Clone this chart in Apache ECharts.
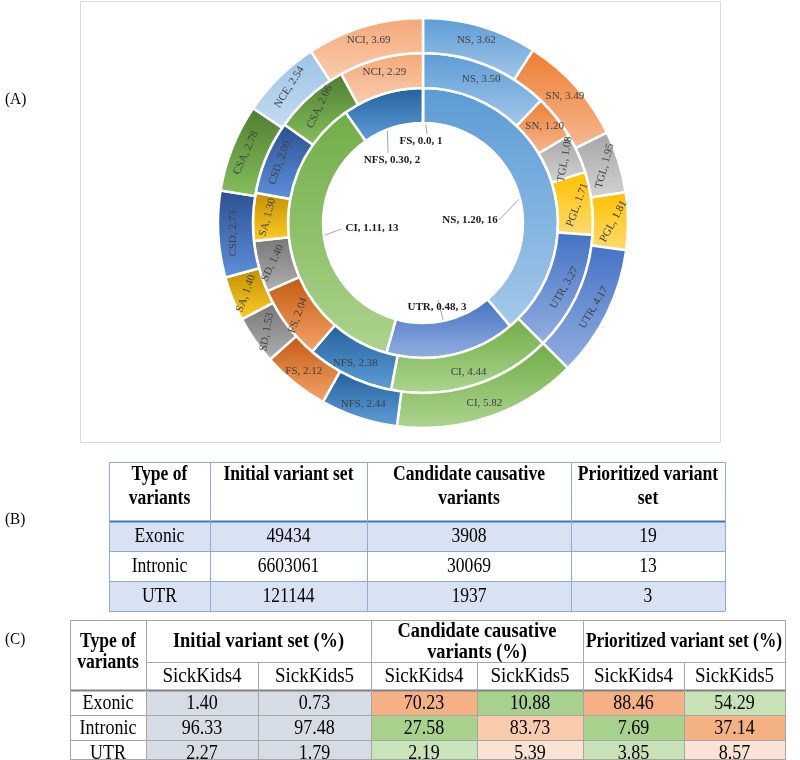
<!DOCTYPE html>
<html><head><meta charset="utf-8">
<script src="https://cdn.jsdelivr.net/npm/echarts@6/dist/echarts.min.js"></script>
<style>html,body{margin:0;padding:0;background:#fff}#c{width:800px;height:760px}</style>
</head><body><div id="c"></div>
<script>
// ---------------- data ----------------
const innerNames  = ['NS', 'UTR', 'CI', 'NFS', 'FS'];
const innerValues = [1.20, 0.48, 1.11, 0.30, 0.0];
const innerCounts = [16, 3, 13, 2, 1];

const middleNames  = ['NS','SN','TGL','PGL','UTR','CI','NFS','FS','SD','SA','CSD','CSA','NCI'];
const middleValues = [3.50, 1.20, 1.08, 1.71, 3.27, 4.44, 2.38, 2.04, 1.40, 1.30, 2.00, 2.06, 2.29];

const outerNames  = ['NS','SN','TGL','PGL','UTR','CI','NFS','FS','SD','SA','CSD','CSA','NCE','NCI'];
const outerValues = [3.62, 3.49, 1.95, 1.81, 4.17, 5.82, 2.44, 2.12, 1.53, 1.40, 2.73, 2.78, 2.54, 3.69];

const tableBHeader = ['Type of\nvariants', 'Initial variant set', 'Candidate causative\nvariants', 'Prioritized variant\nset'];
const variantTypes = ['Exonic', 'Intronic', 'UTR'];
const initialCounts     = [49434, 6603061, 121144];
const candidateCounts   = [3908, 30069, 1937];
const prioritizedCounts = [19, 13, 3];

const tableCGroups = ['Initial variant set (%)', 'Candidate causative\nvariants (%)', 'Prioritized variant set (%)'];
const sampleNames = ['SickKids4', 'SickKids5'];
const initialPctSK4     = [1.40, 96.33, 2.27];
const initialPctSK5     = [0.73, 97.48, 1.79];
const candidatePctSK4   = [70.23, 27.58, 2.19];
const candidatePctSK5   = [10.88, 83.73, 5.39];
const prioritizedPctSK4 = [88.46, 7.69, 3.85];
const prioritizedPctSK5 = [54.29, 37.14, 8.57];

// ---------------- styles / layout ----------------
const SERIF = '"Liberation Serif","Times New Roman",Times,serif';
const CX = 423, CY = 223;
const catColors = {
  NS:  ['#5b9bd5', '#a4c8ea'],
  SN:  ['#ed7d31', '#f6b992'],
  TGL: ['#a5a5a5', '#d3d3d3'],
  PGL: ['#ffc000', '#ffdb6e'],
  UTR: ['#4472c4', '#93afe0'],
  CI:  ['#70ad47', '#add48f'],
  NFS: ['#24609c', '#5f9fd8'],
  FS:  ['#c55a11', '#f4a46c'],
  SD:  ['#767676', '#b0b0b0'],
  SA:  ['#c09000', '#ffcc26'],
  CSD: ['#2b4f91', '#5f91dc'],
  CSA: ['#4f7c30', '#86c05e'],
  NCE: ['#9dc3e6', '#c3dbf0'],
  NCI: ['#f4a878', '#f9cdb0']
};
function grad(name) {
  const c = catColors[name];
  return { type: 'linear', x: 0, y: 0, x2: 0, y2: 1,
    colorStops: [{ offset: 0, color: c[0] }, { offset: 1, color: c[1] }] };
}
// label rotation (degrees, counter-clockwise) for ring labels
const middleRot = [0, 0, 80, 70, 60, 0, 0, 70, 65, 75, 70, 65, 0];
const outerRot  = [0, 0, 75, 62, 60, 0, 0, 0, 80, 70, 90, 66, 58, 0];
// inner label placement: label centre offset and leader-line end offset (from centre)
const innerLabelPos = [
  { dx: 47, dy: -3, lx: 76, ly: -3 },
  { dx: 14, dy: 84, lx: 15, ly: 77 },
  { dx: -51, dy: 5, lx: -82, ly: 6 },
  { dx: -31, dy: -63, lx: -35, ly: -70 },
  { dx: -2, dy: -82, lx: 4, ly: -89 }
];

function midAngle(values, i) {
  let sum = 0, before = 0;
  values.forEach((v, k) => { sum += v; if (k < i) before += v; });
  return (before + values[i] / 2) / sum * Math.PI * 2;
}
function ringData(names, values, rot) {
  return names.map((n, i) => ({
    name: n, value: values[i],
    itemStyle: { color: grad(n) },
    label: { rotate: rot[i] }
  }));
}

const ringLabel = {
  show: true, position: 'inside', color: '#404040',
  fontFamily: SERIF, fontSize: 11,
  formatter: p => p.name + ', ' + p.value.toFixed(2)
};
const ringItem = { borderColor: '#ffffff', borderWidth: 2.5 };

const series = [
  {
    type: 'pie', center: [CX, CY], radius: [100, 135], startAngle: 90, clockwise: true,
    avoidLabelOverlap: false, silent: true,
    itemStyle: ringItem,
    data: innerNames.map((n, i) => ({ name: n, value: innerValues[i], itemStyle: { color: grad(n) } })),
    label: {
      show: true, position: 'outside', color: '#1a1a1a', fontFamily: SERIF,
      fontSize: 11, fontWeight: 'bold',
      formatter: p => {
        const i = p.dataIndex;
        const v = innerValues[i] === 0 ? '0.0' : innerValues[i].toFixed(2);
        return innerNames[i] + ', ' + v + ', ' + innerCounts[i];
      }
    },
    labelLine: { show: true, length: 5, length2: 5, lineStyle: { color: '#a6a6a6', width: 1 } },
    labelLayout: function (p) {
      const i = p.dataIndex;
      const s = innerLabelPos[i];
      const a = midAngle(innerValues, i);
      const r = 120;
      const ax = CX + Math.sin(a) * r, ay = CY - Math.cos(a) * r;
      return {
        x: CX + s.dx, y: CY + s.dy, align: 'center', verticalAlign: 'middle',
        labelLinePoints: [[ax, ay], [ax, ay], [CX + s.lx, CY + s.ly]]
      };
    }
  },
  {
    type: 'pie', center: [CX, CY], radius: [135, 170], startAngle: 90, clockwise: true,
    avoidLabelOverlap: false, silent: true, itemStyle: ringItem,
    label: ringLabel, labelLine: { show: false },
    data: ringData(middleNames, middleValues, middleRot)
  },
  {
    type: 'pie', center: [CX, CY], radius: [170, 205], startAngle: 90, clockwise: true,
    avoidLabelOverlap: false, silent: true, itemStyle: ringItem,
    label: ringLabel, labelLine: { show: false },
    data: ringData(outerNames, outerValues, outerRot)
  }
];

// ---------------- tables (graphic) ----------------
const measureCtx = document.createElement('canvas').getContext('2d');
function textWidth(text, size, bold) {
  measureCtx.font = (bold ? 'bold ' : '') + size + 'px ' + SERIF;
  return Math.max.apply(null, String(text).split('\n').map(t => measureCtx.measureText(t).width));
}
const g = [];
// text condensed horizontally (sx) and fitted into a cell width (maxW)
function txt(x, y, text, size, bold, sx, maxW, lh, vAlign) {
  let s = sx;
  const w = textWidth(text, size, bold) * s;
  if (maxW && w > maxW) s = s * maxW / w;
  g.push({
    type: 'text', x: x, y: y, silent: true, scaleX: s, scaleY: 1,
    style: { text: String(text), fill: '#000', fontFamily: SERIF, fontSize: size,
      fontWeight: bold ? 'bold' : 'normal', align: 'center', verticalAlign: vAlign || 'middle',
      lineHeight: lh || size + 4 }
  });
}
function line(x1, y1, x2, y2, color, w) {
  g.push({ type: 'line', silent: true, shape: { x1, y1, x2, y2 }, style: { stroke: color, lineWidth: w } });
}
function rect(x, y, w, h, fill, stroke, lw) {
  g.push({ type: 'rect', silent: true, shape: { x, y, width: w, height: h },
    style: { fill: fill, stroke: stroke || null, lineWidth: lw || 0 } });
}

// chart frame
rect(80.5, 1.5, 640, 441, 'none', '#d9d9d9', 1);
// panel labels
[['(A)', 100], ['(B)', 520], ['(C)', 640]].forEach(p => {
  g.push({ type: 'text', x: 5, y: p[1], silent: true, scaleX: 0.9,
    style: { text: p[0], fontFamily: SERIF, fontSize: 17, fill: '#000', verticalAlign: 'middle' } });
});

// ---- table B ----
const bx = [109, 210, 367, 571, 725];
const by = [462, 521, 551, 581, 611];
const bFill = ['#d9e2f3', '#ffffff', '#d9e2f3'];
for (let r = 0; r < 3; r++) rect(bx[0], by[r + 1], bx[4] - bx[0], by[r + 2] - by[r + 1], bFill[r]);
const bLine = '#8eaadb';
for (let r = 0; r < by.length; r++) line(bx[0], by[r] + 0.5, bx[4], by[r] + 0.5, r === 1 ? '#4472c4' : bLine, r === 1 ? 2 : 1);
for (let c = 0; c < bx.length; c++) line(bx[c] + 0.5, by[0], bx[c] + 0.5, by[4], bLine, 1);
tableBHeader.forEach((h, c) => {
  txt((bx[c] + bx[c + 1]) / 2, by[0] + 1, h, 20, true, 0.88, bx[c + 1] - bx[c] - 4, 24, 'top');
});
const bCols = [variantTypes, initialCounts, candidateCounts, prioritizedCounts];
for (let r = 0; r < 3; r++) {
  bCols.forEach((col, c) => txt((bx[c] + bx[c + 1]) / 2, (by[r + 1] + by[r + 2]) / 2 + 1, col[r], 20, false, 0.88));
}

// ---- table C ----
const cx = [70, 146, 258, 371, 477, 583, 684, 785];
const cy = [620, 662, 690, 715, 740, 765];
const cCols = [initialPctSK4, initialPctSK5, candidatePctSK4, candidatePctSK5, prioritizedPctSK4, prioritizedPctSK5];
const cFill = [
  ['#d6dce5', '#d6dce5', '#f4b183', '#a9d18e', '#f4b183', '#c8e2b7'],
  ['#d6dce5', '#d6dce5', '#a9d18e', '#f8cbad', '#a9d18e', '#f4b183'],
  ['#d6dce5', '#d6dce5', '#cae4ba', '#fbe3d3', '#c8e2b7', '#fbe3d3']
];
for (let r = 0; r < 3; r++) for (let c = 0; c < 6; c++) {
  rect(cx[c + 1] + 1, cy[r + 2] + 1, cx[c + 2] - cx[c + 1] - 1, cy[r + 3] - cy[r + 2] - 1, cFill[r][c]);
}
const cLine = '#a6a6a6';
line(cx[0], cy[0] + 0.5, cx[7], cy[0] + 0.5, cLine, 1);
line(cx[1], cy[1] + 0.5, cx[7], cy[1] + 0.5, cLine, 1);
line(cx[0], cy[2] + 0.5, cx[7], cy[2] + 0.5, '#808080', 2);
line(cx[0], cy[3] + 0.5, cx[7], cy[3] + 0.5, cLine, 1);
line(cx[0], cy[4] + 0.5, cx[7], cy[4] + 0.5, cLine, 1);
line(cx[0], 759.5, cx[7], 759.5, cLine, 1);
[0, 1, 3, 5, 7].forEach(c => line(cx[c] + 0.5, cy[0], cx[c] + 0.5, cy[5], cLine, 1));
[2, 4, 6].forEach(c => line(cx[c] + 0.5, cy[1], cx[c] + 0.5, cy[5], cLine, 1));

txt((cx[0] + cx[1]) / 2, 652, 'Type of\nvariants', 20, true, 0.88, cx[1] - cx[0] - 4, 21);
tableCGroups.forEach((h, k) => {
  txt((cx[1 + 2 * k] + cx[3 + 2 * k]) / 2, 642, h, 20, true, 0.92, cx[3 + 2 * k] - cx[1 + 2 * k] - 6, 21);
});
for (let c = 0; c < 6; c++) txt((cx[c + 1] + cx[c + 2]) / 2, (cy[1] + cy[2]) / 2 + 1, sampleNames[c % 2], 20, false, 0.95, cx[c + 2] - cx[c + 1] - 8);
for (let r = 0; r < 3; r++) {
  const ym = (cy[r + 2] + cy[r + 3]) / 2 + 1;
  txt((cx[0] + cx[1]) / 2, ym, variantTypes[r], 20, false, 0.9);
  for (let c = 0; c < 6; c++) txt((cx[c + 1] + cx[c + 2]) / 2, ym, cCols[c][r].toFixed(2), 20, false, 0.9);
}

const chart = echarts.init(document.getElementById('c'), null, { renderer: 'canvas' });
chart.setOption({
  backgroundColor: '#ffffff',
  animation: false,
  series: series,
  graphic: g
});
</script></body></html>
